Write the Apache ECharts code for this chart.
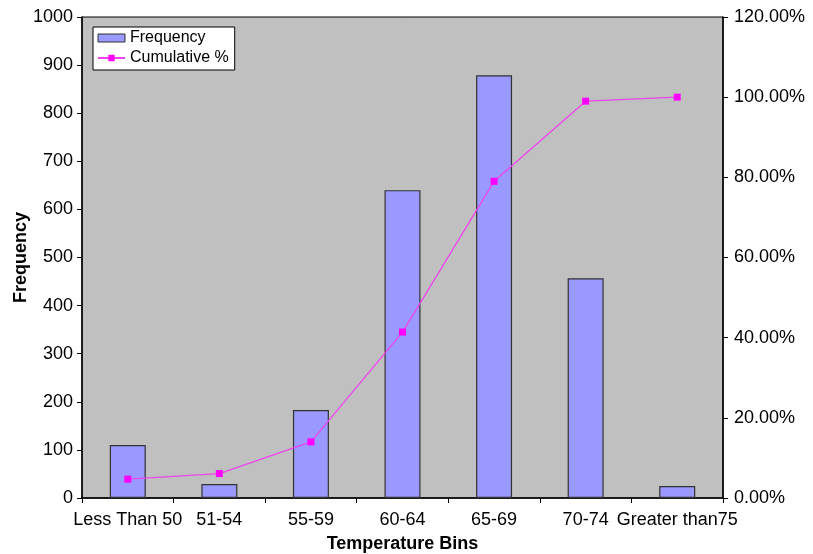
<!DOCTYPE html>
<html>
<head>
<meta charset="utf-8">
<script src="https://cdn.jsdelivr.net/npm/echarts@6/dist/echarts.min.js"></script>
<style>
html,body{margin:0;padding:0;background:#fff;}
#chart{width:813px;height:554px;}
</style>
</head>
<body>
<div id="chart"></div>
<script>
const categories = ['Less Than 50', '51-54', '55-59', '60-64', '65-69', '70-74', 'Greater than75'];
const frequency = [110, 29, 183, 640, 879, 457, 25];
const cumulativePct = [4.7, 6.1, 14.0, 41.4, 79.0, 99.0, 100.0];
const leftTicks = [0, 1000, 100];
const rightTicks = [0, 120, 20];

const FONT = '"Liberation Sans", Arial, sans-serif';
const chart = echarts.init(document.getElementById('chart'), null, {renderer: 'canvas'});
chart.setOption({
  animation: false,
  backgroundColor: '#ffffff',
  textStyle: {fontFamily: FONT},
  grid: {left: 82, right: 90, top: 17, bottom: 56, show: true, backgroundColor: '#c0c0c0', borderColor: '#000', borderWidth: 1, containLabel: false, outerBoundsMode: 'none'},
  legend: {
    left: 93, top: 27, orient: 'vertical',
    backgroundColor: '#ffffff', borderColor: '#000', borderWidth: 1,
    padding: [3, 6, 4, 4], itemGap: 4, itemWidth: 27, itemHeight: 8,
    textStyle: {fontFamily: FONT, fontSize: 16, color: '#000'},
    data: [
      {name: 'Frequency', icon: 'rect', itemStyle: {color: '#9999ff', borderColor: '#333', borderWidth: 1}},
      {name: 'Cumulative %'}
    ]
  },
  xAxis: {
    type: 'category', data: categories,
    name: 'Temperature Bins', nameLocation: 'middle', nameGap: 37, nameMoveOverlap: false,
    nameTextStyle: {fontFamily: FONT, fontSize: 18, fontWeight: 'bold', color: '#000'},
    axisLine: {lineStyle: {color: '#000', width: 1.5}},
    axisTick: {show: true, length: 5, lineStyle: {color: '#000'}},
    axisLabel: {color: '#000', fontSize: 18, fontFamily: FONT, margin: 13, interval: 0}
  },
  yAxis: [
    {
      type: 'value', min: leftTicks[0], max: leftTicks[1], interval: leftTicks[2],
      name: 'Frequency', nameLocation: 'middle', nameGap: 52, nameMoveOverlap: false,
      nameTextStyle: {fontFamily: FONT, fontSize: 18, fontWeight: 'bold', color: '#000'},
      axisLine: {show: true, lineStyle: {color: '#000', width: 1.5}},
      axisTick: {show: true, length: 5, lineStyle: {color: '#000'}},
      axisLabel: {color: '#000', fontSize: 18, fontFamily: FONT, margin: 9, formatter: v => String(v)},
      splitLine: {show: false}
    },
    {
      type: 'value', min: rightTicks[0], max: rightTicks[1], interval: rightTicks[2], position: 'right',
      axisLine: {show: true, lineStyle: {color: '#000', width: 1.5}},
      axisTick: {show: true, length: 5, lineStyle: {color: '#000'}},
      axisLabel: {color: '#000', fontSize: 18, fontFamily: FONT, margin: 11,
        formatter: v => v.toFixed(2) + '%'},
      splitLine: {show: false}
    }
  ],
  series: [
    {
      name: 'Frequency', type: 'bar', data: frequency, yAxisIndex: 0,
      barWidth: 36,
      itemStyle: {color: '#9999ff', borderColor: '#333', borderWidth: 1.2}
    },
    {
      name: 'Cumulative %', type: 'line', data: cumulativePct, yAxisIndex: 1,
      symbol: 'rect', symbolSize: 7,
      lineStyle: {color: '#ee44ee', width: 1.3},
      itemStyle: {color: '#ff00ff'}
    }
  ]
});
</script>
</body>
</html>
